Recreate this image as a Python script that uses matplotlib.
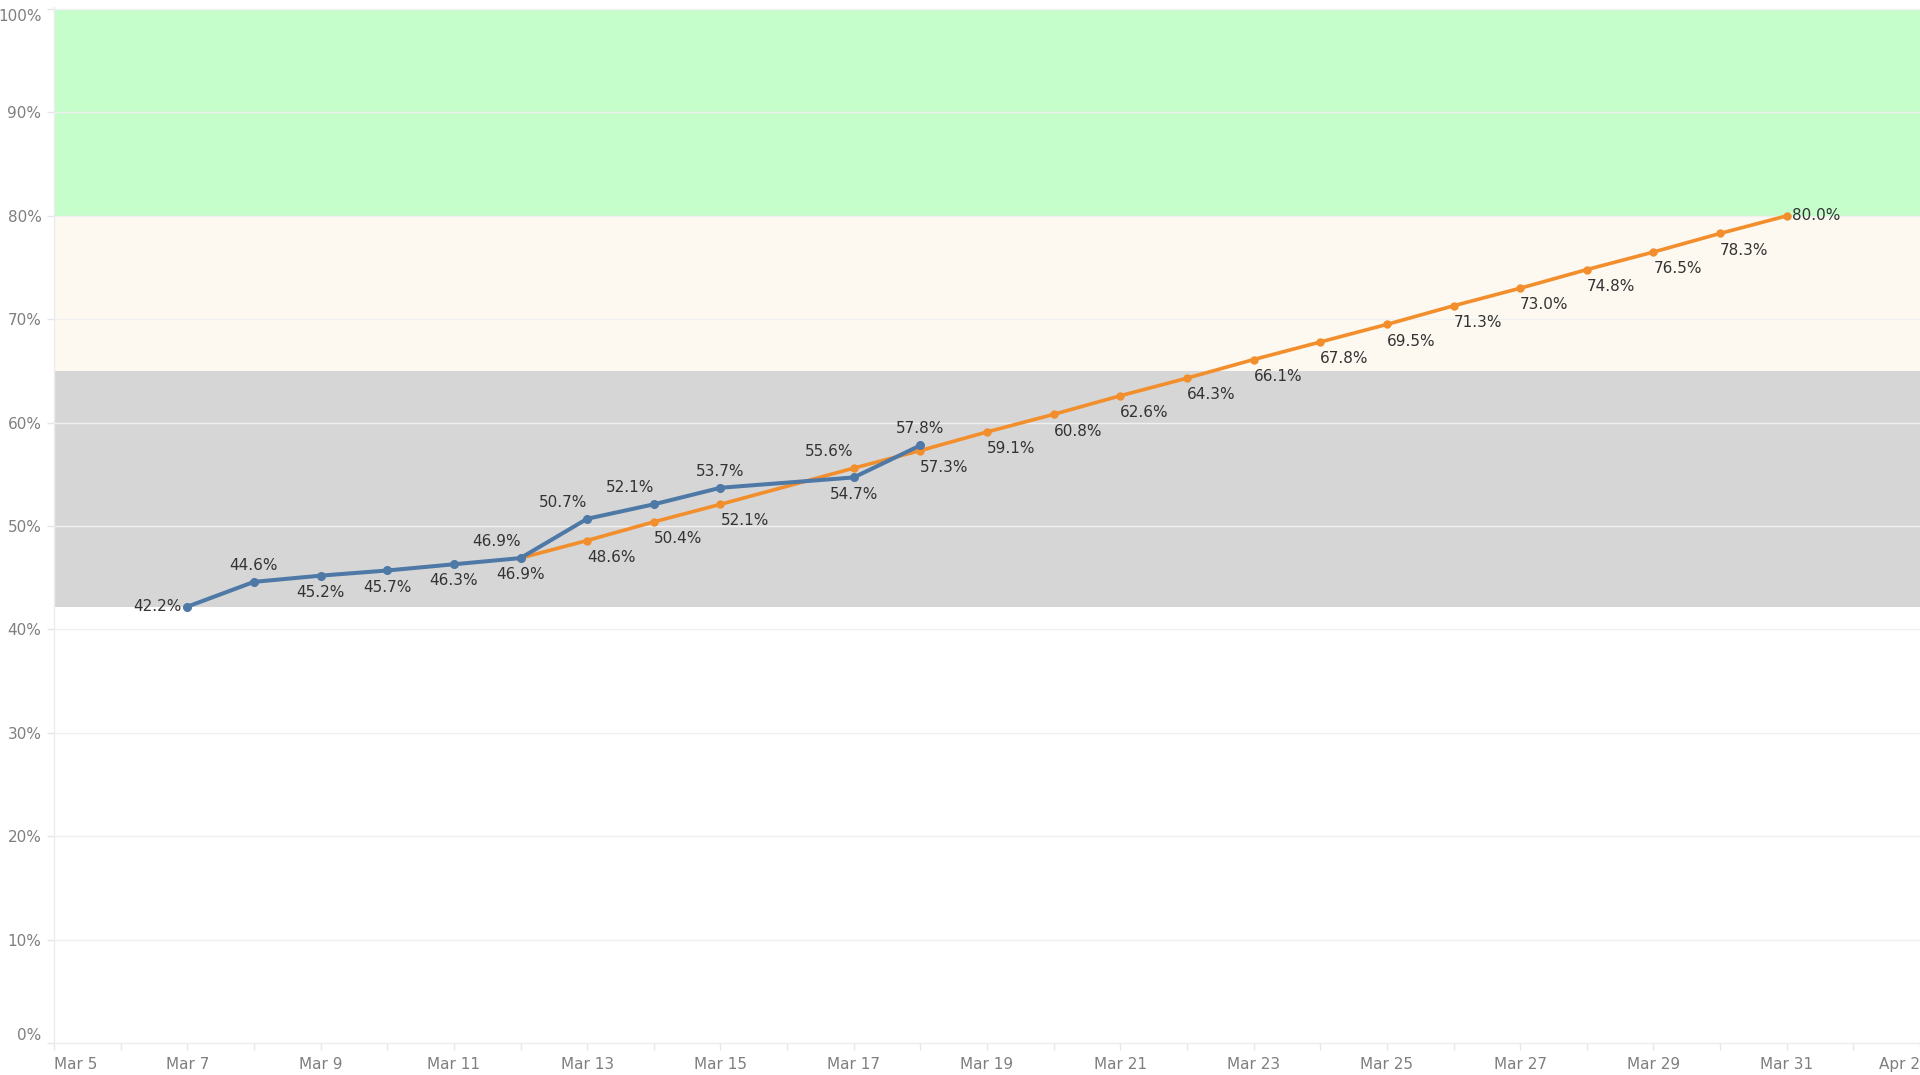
import pandas as pd
import matplotlib
matplotlib.use('Agg')
import matplotlib.pyplot as plt
import matplotlib.dates as mdates
import matplotlib.transforms as mtransforms

# actual progress (blue)
actual_dates = ['2024-03-07', '2024-03-08', '2024-03-09', '2024-03-10', '2024-03-11',
                '2024-03-12', '2024-03-13', '2024-03-14', '2024-03-15', '2024-03-17',
                '2024-03-18']
actual_pct = [42.2, 44.6, 45.2, 45.7, 46.3, 46.9, 50.7, 52.1, 53.7, 54.7, 57.8]
actual_pos = ['l', 'a', 'b', 'b', 'b', 'al', 'al', 'al', 'a', 'b', 'a']

# target / projected path (orange)
target_dates = ['2024-03-12', '2024-03-13', '2024-03-14', '2024-03-15', '2024-03-17',
                '2024-03-18', '2024-03-19', '2024-03-20', '2024-03-21', '2024-03-22',
                '2024-03-23', '2024-03-24', '2024-03-25', '2024-03-26', '2024-03-27',
                '2024-03-28', '2024-03-29', '2024-03-30', '2024-03-31']
target_pct = [46.9, 48.6, 50.4, 52.1, 55.6, 57.3, 59.1, 60.8, 62.6, 64.3, 66.1, 67.8,
              69.5, 71.3, 73.0, 74.8, 76.5, 78.3, 80.0]
target_pos = ['b', 'br', 'br', 'br', 'al'] + ['br'] * 13 + ['r']

# reference bands
band_low = [42.2, 65, 80]
band_high = [65, 80, 100]
band_colors = ['#d6d6d6', '#fdf8f0', '#c5fdcb']

x_start, x_end = '2024-03-05', '2024-04-02'

ad = pd.to_datetime(actual_dates)
td = pd.to_datetime(target_dates)

fig = plt.figure(figsize=(19.2, 10.75), dpi=100)
ax = fig.add_axes([54 / 1920, 32 / 1075, 1 - 54 / 1920, 1036 / 1075])

for lo, hi, c in zip(band_low, band_high, band_colors):
    ax.axhspan(lo, hi, color=c, zorder=0, lw=0)

for v in range(10, 101, 10):
    ax.axhline(v, color='#f0f0f0', lw=1, zorder=1)

ax.plot(td, target_pct, color='#f28e2b', lw=2.6, marker='o', ms=5, zorder=3)
ax.plot(ad, actual_pct, color='#4e79a7', lw=2.9, marker='o', ms=5.5, zorder=4)

place = {'a': (0, 12, 'center'), 'b': (0, -12, 'center'),
         'al': (0, 12, 'right'), 'br': (0, -12, 'left'),
         'l': (-4, 0, 'right'), 'r': (4, 0, 'left')}


def put_labels(dates, vals, pos):
    for d, v, p in zip(dates, vals, pos):
        dx, dy, ha = place[p]
        ax.annotate(f'{v:.1f}%', (d, v), xytext=(dx, dy), textcoords='offset points',
                    ha=ha, va='center', fontsize=11, color='#333333', zorder=5)


put_labels(ad, actual_pct, actual_pos)
put_labels(td, target_pct, target_pos)

ax.set_xlim(pd.Timestamp(x_start), pd.Timestamp(x_end))
ax.set_ylim(0, 100.2)

major = pd.date_range(x_start, x_end, freq='2D')
ax.set_xticks(major)
ax.set_xticklabels([d.strftime('%b ') + str(d.day) for d in major])
ax.xaxis.set_minor_locator(mdates.DayLocator())
labs = ax.get_xticklabels()
labs[0].set_ha('left')
labs[-1].set_ha('right')

yt = list(range(0, 101, 10))
ax.set_yticks(yt)
ax.set_yticklabels([f'{v}%' for v in yt])
ylabs = ax.get_yticklabels()
ylabs[0].set_va('bottom')
ylabs[-1].set_va('top')
shift = mtransforms.ScaledTranslation(0, -4 / 72, fig.dpi_scale_trans)
ylabs[-1].set_transform(ylabs[-1].get_transform() + shift)

ax.tick_params(axis='both', which='both', color='#e6e6e6', labelcolor='#7f7f7f',
               labelsize=11, length=5, width=1)
ax.tick_params(axis='x', pad=5)
ax.tick_params(axis='y', pad=4)

for s in ['top', 'right']:
    ax.spines[s].set_visible(False)
for s in ['left', 'bottom']:
    ax.spines[s].set_color('#ececec')
    ax.spines[s].set_linewidth(1)

fig.savefig('out.png', dpi=100)
